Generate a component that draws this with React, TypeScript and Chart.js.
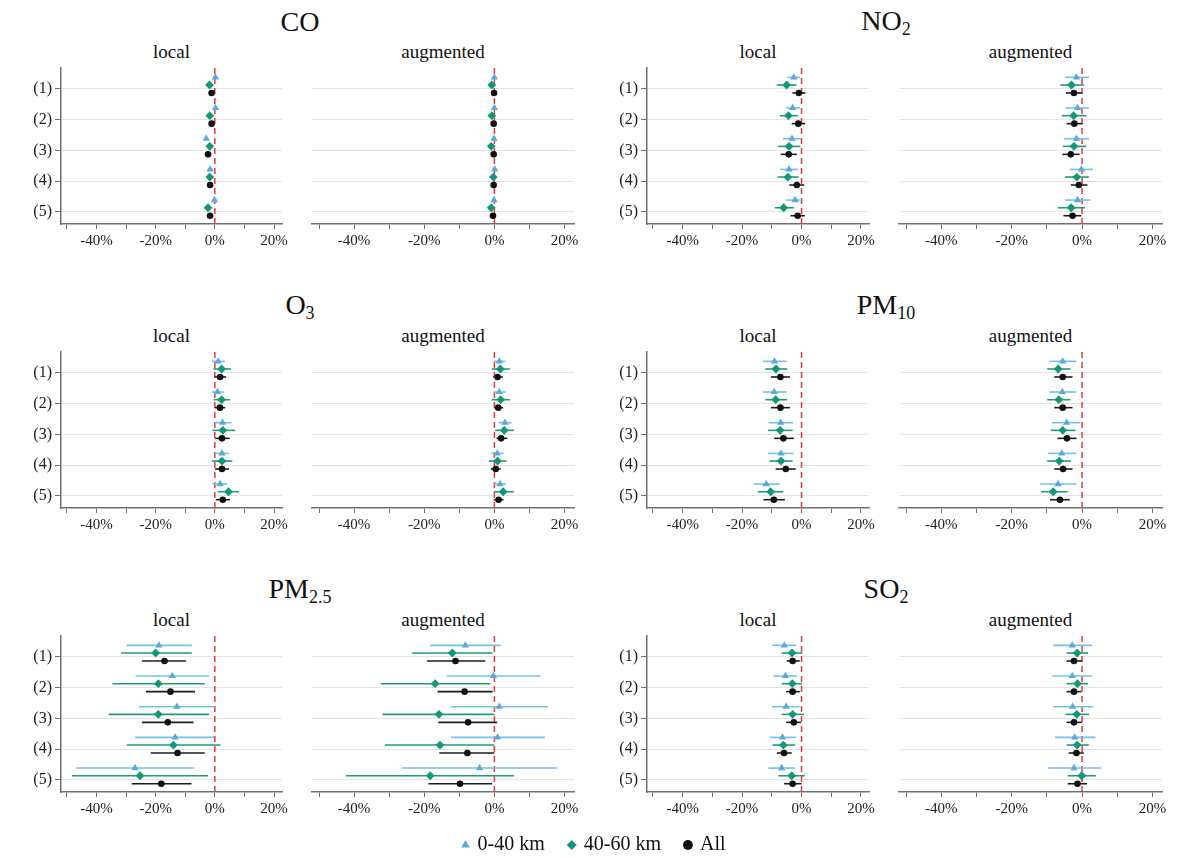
import React, { useEffect, useRef } from 'react';
import { Chart, registerables } from 'chart.js';

Chart.register(...registerables);

const SERIF = '"Liberation Serif", "Times New Roman", Times, serif';
Chart.defaults.font.family = SERIF;

// ---------- categories, labels, ticks ----------
const ROW_LABELS = ['(1)', '(2)', '(3)', '(4)', '(5)'];
const SERIES_LABELS = ['0-40 km', '40-60 km', 'All'];
const MODEL_LABELS = ['local', 'augmented'];
const POLLUTANT_BASE = ['CO', 'NO', 'O', 'PM', 'PM', 'SO'];
const POLLUTANT_SUB = ['', '2', '3', '10', '2.5', '2'];
const X_TICK_VALUES = [-50, -40, -30, -20, -10, 0, 10, 20];
const X_LABEL_VALUES = [-40, -20, 0, 20];
const X_MIN = -52;
const X_MAX = 22.7;

// ---------- data: each row = [estimate, lower CI, upper CI] in % ----------
const coLocalNear = [[0.2, -0.5, 0.9], [0.2, -0.5, 0.9], [-2.9, -3.7, -2.1], [-1.6, -2.4, -0.8], [-0.1, -0.9, 0.7]];
const coLocalMid = [[-1.8, -2.6, -1.0], [-1.7, -2.5, -0.9], [-1.7, -2.5, -0.9], [-1.7, -2.5, -0.9], [-2.3, -3.1, -1.5]];
const coLocalAll = [[-1.1, -1.8, -0.4], [-1.1, -1.8, -0.4], [-2.3, -3.2, -1.4], [-1.6, -2.3, -0.9], [-1.6, -2.3, -0.9]];
const coAugNear = [[0.0, -0.6, 0.6], [0.0, -0.6, 0.6], [-0.1, -0.7, 0.5], [0.1, -0.5, 0.7], [-0.1, -0.7, 0.5]];
const coAugMid = [[-0.75, -1.4, -0.1], [-0.7, -1.3, -0.1], [-0.9, -1.6, -0.2], [-0.3, -1.0, 0.4], [-0.9, -1.7, -0.1]];
const coAugAll = [[-0.1, -0.7, 0.5], [-0.2, -0.8, 0.4], [-0.2, -0.8, 0.4], [-0.2, -0.8, 0.4], [-0.4, -1.0, 0.2]];

const no2LocalNear = [[-2.6, -4.8, -0.5], [-3.0, -5.3, -0.5], [-3.2, -6.3, -0.1], [-4.2, -7.2, -1.2], [-2.2, -5.2, 0.6]];
const no2LocalMid = [[-5.0, -8.3, -1.7], [-4.4, -7.3, -1.2], [-4.2, -7.9, -0.3], [-4.6, -8.1, -1.0], [-6.0, -9.0, -2.6]];
const no2LocalAll = [[-0.9, -3.1, 1.3], [-1.1, -3.3, 1.2], [-4.3, -7.0, -1.6], [-1.6, -4.1, 0.9], [-1.3, -3.7, 1.1]];
const no2AugNear = [[-1.6, -4.9, 2.0], [-1.3, -4.6, 2.0], [-1.6, -5.1, 2.0], [-0.2, -3.5, 3.1], [-1.3, -4.9, 2.4]];
const no2AugMid = [[-3.0, -6.2, 0.5], [-2.4, -5.8, 1.2], [-2.3, -5.5, 1.2], [-1.5, -4.9, 1.9], [-3.1, -6.9, 0.8]];
const no2AugAll = [[-2.3, -4.6, 0.0], [-2.2, -4.4, 0.1], [-3.2, -5.6, -0.7], [-0.9, -3.2, 1.5], [-2.7, -5.3, -0.2]];

const o3LocalNear = [[1.1, -1.0, 3.4], [0.9, -1.0, 3.1], [2.6, 0.1, 5.7], [2.4, 0.3, 4.8], [1.8, -0.8, 4.2]];
const o3LocalMid = [[2.3, -0.5, 5.5], [2.3, -0.4, 5.2], [2.7, -0.8, 6.8], [2.4, -1.0, 5.9], [4.6, 1.0, 8.1]];
const o3LocalAll = [[1.8, 0.0, 3.8], [1.7, 0.0, 3.5], [2.4, 0.1, 5.0], [2.4, 0.1, 4.8], [2.7, 0.3, 5.1]];
const o3AugNear = [[1.4, -0.2, 3.2], [1.4, -0.2, 3.2], [3.0, 1.1, 4.9], [0.8, -0.9, 2.6], [1.6, -0.1, 3.3]];
const o3AugMid = [[1.7, -0.7, 4.4], [1.8, -0.7, 4.4], [2.8, 0.2, 5.6], [0.9, -1.6, 3.5], [2.5, -0.1, 5.5]];
const o3AugAll = [[0.9, -0.3, 2.4], [1.1, -0.1, 2.5], [1.9, 0.6, 3.7], [0.4, -1.0, 1.8], [1.2, -0.2, 2.6]];

const pm10LocalNear = [[-9.1, -13.0, -5.0], [-9.2, -13.0, -5.0], [-7.0, -11.1, -2.8], [-6.9, -11.3, -2.7], [-11.9, -16.1, -7.4]];
const pm10LocalMid = [[-8.6, -12.2, -4.8], [-8.7, -12.2, -4.8], [-7.2, -11.3, -3.0], [-6.9, -10.8, -3.0], [-10.4, -14.7, -6.1]];
const pm10LocalAll = [[-7.1, -10.3, -3.9], [-7.1, -10.3, -3.9], [-6.1, -9.2, -2.6], [-5.3, -8.7, -2.0], [-9.3, -12.8, -5.6]];
const pm10AugNear = [[-5.5, -9.3, -1.6], [-5.6, -9.3, -1.6], [-4.4, -8.6, -0.5], [-5.8, -9.6, -1.6], [-6.8, -11.9, -1.6]];
const pm10AugMid = [[-6.8, -9.9, -3.3], [-6.6, -9.9, -3.3], [-5.5, -8.9, -1.9], [-6.5, -9.9, -3.2], [-8.2, -11.6, -4.1]];
const pm10AugAll = [[-5.5, -7.9, -2.7], [-5.5, -7.9, -2.7], [-4.3, -7.0, -1.6], [-5.4, -7.9, -2.7], [-6.3, -9.1, -3.5]];

const pm25LocalNear = [[-18.9, -29.8, -7.8], [-14.4, -26.8, -2.0], [-12.8, -25.7, 0.0], [-13.4, -27.0, -0.3], [-27.0, -47.0, -7.0]];
const pm25LocalMid = [[-20.0, -31.7, -7.8], [-19.1, -34.6, -3.4], [-19.1, -35.9, -2.0], [-14.0, -29.8, 1.9], [-25.3, -48.3, -2.3]];
const pm25LocalAll = [[-17.0, -24.6, -9.8], [-15.0, -23.3, -6.7], [-15.9, -24.6, -7.2], [-12.6, -21.7, -3.4], [-18.1, -28.1, -7.9]];
const pm25AugNear = [[-8.3, -18.3, 1.9], [-0.3, -13.6, 13.1], [1.4, -12.4, 15.2], [0.9, -12.4, 14.4], [-4.2, -26.3, 17.8]];
const pm25AugMid = [[-12.0, -23.5, -0.5], [-16.9, -32.4, -1.1], [-15.8, -31.9, 0.0], [-15.5, -31.2, 0.0], [-18.3, -42.3, 5.6]];
const pm25AugAll = [[-11.1, -19.2, -2.6], [-8.5, -16.2, -0.5], [-7.5, -16.0, 0.8], [-7.7, -15.7, 0.0], [-9.8, -18.8, -0.7]];

const so2LocalNear = [[-5.8, -9.8, -1.7], [-5.4, -9.4, -1.4], [-5.2, -10.0, -0.6], [-6.4, -10.8, -1.9], [-6.7, -11.1, -2.2]];
const so2LocalMid = [[-3.2, -6.7, 0.3], [-3.1, -6.7, 0.2], [-3.0, -6.7, 0.8], [-6.1, -9.8, -2.2], [-3.3, -7.8, 1.1]];
const so2LocalAll = [[-3.0, -5.0, -0.6], [-3.0, -5.2, -0.6], [-2.6, -5.2, -0.2], [-5.9, -8.3, -3.3], [-3.0, -5.9, 0.0]];
const so2AugNear = [[-2.8, -8.2, 2.8], [-2.8, -8.4, 2.8], [-2.7, -8.2, 3.1], [-2.1, -7.7, 3.8], [-2.3, -9.8, 5.4]];
const so2AugMid = [[-1.4, -4.4, 1.7], [-1.3, -4.4, 1.7], [-1.5, -4.7, 2.0], [-1.4, -4.4, 1.9], [-0.1, -4.1, 3.9]];
const so2AugAll = [[-2.3, -4.4, 0.0], [-2.3, -4.4, -0.2], [-2.3, -4.4, 0.0], [-1.6, -3.8, 0.5], [-1.3, -4.1, 1.4]];

// panel order: pollutant-major, then model (local, augmented)
const PANEL_SERIES = [
  [coLocalNear, coLocalMid, coLocalAll], [coAugNear, coAugMid, coAugAll],
  [no2LocalNear, no2LocalMid, no2LocalAll], [no2AugNear, no2AugMid, no2AugAll],
  [o3LocalNear, o3LocalMid, o3LocalAll], [o3AugNear, o3AugMid, o3AugAll],
  [pm10LocalNear, pm10LocalMid, pm10LocalAll], [pm10AugNear, pm10AugMid, pm10AugAll],
  [pm25LocalNear, pm25LocalMid, pm25LocalAll], [pm25AugNear, pm25AugMid, pm25AugAll],
  [so2LocalNear, so2LocalMid, so2LocalAll], [so2AugNear, so2AugMid, so2AugAll],
];

// ---------- styles & layout ----------
const ROW_OFFSETS = [-0.38, -0.13, 0.13];
const POINT_STYLES = ['triangle', 'rectRot', 'circle'];
const POINT_RADII = [4.2, 4.4, 3.3];
const MARKER_COLORS = ['#5aa8dc', '#14967a', '#111111'];
const WHISKER_COLORS = ['#72c2e6', '#1f9a7c', '#1c1c1c'];
const RED = '#e23b3b';
const GRID = '#e4e4e4';
const AXIS = '#707070';

const Y_MIN = 0.316;
const Y_MAX = 5.4;
const COL_CANVAS_LEFT = [20, 300, 600, 885];
const COL_CANVAS_RIGHT = [300, 590, 885, 1177];
const COL_AREA_LEFT = [61, 312, 647, 899];
const COL_AREA_RIGHT = [282, 574, 869, 1162];
const ROW_AREA_TOP = [68, 352, 636];
const AREA_H = 156;
const PAD_TOP = 6;
const X_AXIS_H = 32;
const TITLE_X = [300, 886];
const TITLE_Y = [22, 306, 590];
const SUBTITLE_DY = 30;

const whiskerPlugin = {
  id: 'whiskers',
  beforeDatasetsDraw(chart: any) {
    const { ctx, chartArea, scales } = chart;
    const xs = scales.x;
    const ys = scales.y;
    ctx.save();
    // zero reference line
    const x0 = xs.getPixelForValue(0);
    ctx.strokeStyle = RED;
    ctx.lineWidth = 1.5;
    ctx.setLineDash([6, 4]);
    ctx.beginPath();
    ctx.moveTo(x0, chartArea.top);
    ctx.lineTo(x0, chartArea.bottom);
    ctx.stroke();
    ctx.setLineDash([]);
    chart.data.datasets.forEach((ds: any) => {
      ctx.strokeStyle = ds.whiskerColor;
      ctx.lineWidth = 1.6;
      ds.data.forEach((p: any) => {
        const py = ys.getPixelForValue(p.y);
        ctx.beginPath();
        ctx.moveTo(xs.getPixelForValue(p.lo), py);
        ctx.lineTo(xs.getPixelForValue(p.hi), py);
        ctx.stroke();
      });
    });
    ctx.restore();
  },
};

function Panel({ panel }: { panel: number }) {
  const ref = useRef<HTMLCanvasElement>(null);
  const pollutant = Math.floor(panel / 2);
  const model = panel % 2;
  const col = (pollutant % 2) * 2 + model;
  const row = Math.floor(pollutant / 2);
  const isLocal = model === 0;
  const left = COL_CANVAS_LEFT[col];
  const width = COL_CANVAS_RIGHT[col] - left;
  const top = ROW_AREA_TOP[row] - PAD_TOP;
  const height = PAD_TOP + AREA_H + X_AXIS_H;

  useEffect(() => {
    const canvas = ref.current!;
    const yWidth = COL_AREA_LEFT[col] - left;
    const padRight = COL_CANVAS_RIGHT[col] - COL_AREA_RIGHT[col];
    const series = PANEL_SERIES[panel];
    const chart = new Chart(canvas, {
      type: 'scatter',
      data: {
        datasets: series.map((rows: number[][], s: number) => ({
          label: SERIES_LABELS[s],
          data: rows.map((r, i) => ({ x: r[0], y: i + 1 + ROW_OFFSETS[s], lo: r[1], hi: r[2] })),
          pointStyle: POINT_STYLES[s],
          pointRadius: POINT_RADII[s],
          pointHoverRadius: POINT_RADII[s],
          backgroundColor: MARKER_COLORS[s],
          borderColor: MARKER_COLORS[s],
          borderWidth: 0,
          whiskerColor: WHISKER_COLORS[s],
        })) as any,
      },
      options: {
        animation: false,
        responsive: false,
        devicePixelRatio: 1,
        layout: { padding: { top: PAD_TOP, right: padRight, left: 0, bottom: 0 } },
        plugins: { legend: { display: false }, tooltip: { enabled: false } },
        scales: {
          x: {
            type: 'linear',
            min: X_MIN,
            max: X_MAX,
            afterBuildTicks: (s: any) => { s.ticks = X_TICK_VALUES.map((v) => ({ value: v })); },
            afterFit: (s: any) => {
              s.height = X_AXIS_H;
              s.paddingLeft = 0;
              s.paddingRight = 0;
            },
            ticks: {
              autoSkip: false,
              maxRotation: 0,
              padding: 3,
              color: '#222',
              font: { family: SERIF, size: 15 },
              callback: (v: any) => (X_LABEL_VALUES.includes(v) ? `${v}%` : ''),
            },
            grid: { drawOnChartArea: false, drawTicks: true, tickLength: 5, tickColor: AXIS },
            border: { display: true, color: AXIS, width: 1.5 },
          },
          y: {
            type: 'linear',
            reverse: true,
            min: Y_MIN,
            max: Y_MAX,
            afterBuildTicks: (s: any) => { s.ticks = ROW_LABELS.map((_, i) => ({ value: i + 1 })); },
            afterFit: (s: any) => {
              s.width = yWidth;
              s.paddingTop = 0;
              s.paddingBottom = 0;
            },
            ticks: {
              display: isLocal,
              padding: 3,
              color: '#222',
              font: { family: SERIF, size: 16 },
              callback: (_v: any, i: number) => ROW_LABELS[i],
            },
            grid: { color: GRID, lineWidth: 1, drawTicks: isLocal, tickLength: 6, tickColor: AXIS },
            border: { display: isLocal, color: AXIS, width: 1.5 },
          },
        },
      } as any,
      plugins: [whiskerPlugin],
    });
    return () => chart.destroy();
  }, []);

  return (
    <canvas
      ref={ref}
      width={width}
      height={height}
      style={{ position: 'absolute', left, top, width, height }}
    />
  );
}

const LEGEND_PAD = 25;
const LEGEND_FONT = 20;
const LEGEND_TOP = 845 - LEGEND_PAD - LEGEND_FONT / 2;
const LEGEND_H = 160;

function LegendBar() {
  const ref = useRef<HTMLCanvasElement>(null);
  useEffect(() => {
    const chart = new Chart(ref.current!, {
      type: 'scatter',
      data: {
        datasets: SERIES_LABELS.map((label, s) => ({
          label,
          data: [],
          pointStyle: POINT_STYLES[s],
          pointRadius: POINT_RADII[s],
          backgroundColor: MARKER_COLORS[s],
          borderColor: MARKER_COLORS[s],
          borderWidth: 0,
        })) as any,
      },
      options: {
        animation: false,
        responsive: false,
        devicePixelRatio: 1,
        layout: { padding: { left: 12, right: 0, top: 0, bottom: 0 } },
        scales: { x: { display: false }, y: { display: false } },
        plugins: {
          tooltip: { enabled: false },
          legend: {
            display: true,
            position: 'top',
            labels: {
              usePointStyle: true,
              boxWidth: 4,
              boxHeight: 7,
              padding: LEGEND_PAD,
              color: '#111',
              font: { family: SERIF, size: LEGEND_FONT },
            },
          },
        },
      } as any,
    });
    return () => chart.destroy();
  }, []);
  return (
    <canvas
      ref={ref}
      width={1177}
      height={LEGEND_H}
      style={{ position: 'absolute', left: 0, top: LEGEND_TOP, width: 1177, height: LEGEND_H }}
    />
  );
}

export default function App() {
  const panels = PANEL_SERIES.map((_, p) => p);
  return (
    <div style={{ position: 'absolute', left: 0, top: 0, width: 1177, height: 858, background: '#fff', overflow: 'hidden' }}>
      {POLLUTANT_BASE.map((base, k) => (
        <div
          key={'t' + k}
          style={{
            position: 'absolute',
            left: TITLE_X[k % 2],
            top: TITLE_Y[Math.floor(k / 2)],
            transform: 'translate(-50%, -50%)',
            fontFamily: SERIF,
            fontSize: 28,
            lineHeight: '32px',
            color: '#111',
            whiteSpace: 'nowrap',
          }}
        >
          {base}
          {POLLUTANT_SUB[k] && (
            <span style={{ fontSize: 18, position: 'relative', top: 5 }}>{POLLUTANT_SUB[k]}</span>
          )}
        </div>
      ))}
      {panels.map((p) => {
        const pollutant = Math.floor(p / 2);
        const model = p % 2;
        const col = (pollutant % 2) * 2 + model;
        const row = Math.floor(pollutant / 2);
        const cx = (COL_AREA_LEFT[col] + COL_AREA_RIGHT[col]) / 2;
        return (
          <div
            key={'s' + p}
            style={{
              position: 'absolute',
              left: cx,
              top: TITLE_Y[row] + SUBTITLE_DY,
              transform: 'translate(-50%, -50%)',
              fontFamily: SERIF,
              fontSize: 19,
              lineHeight: '22px',
              color: '#111',
              whiteSpace: 'nowrap',
            }}
          >
            {MODEL_LABELS[model]}
          </div>
        );
      })}
      {panels.map((p) => (
        <Panel key={'p' + p} panel={p} />
      ))}
      <LegendBar />
    </div>
  );
}
